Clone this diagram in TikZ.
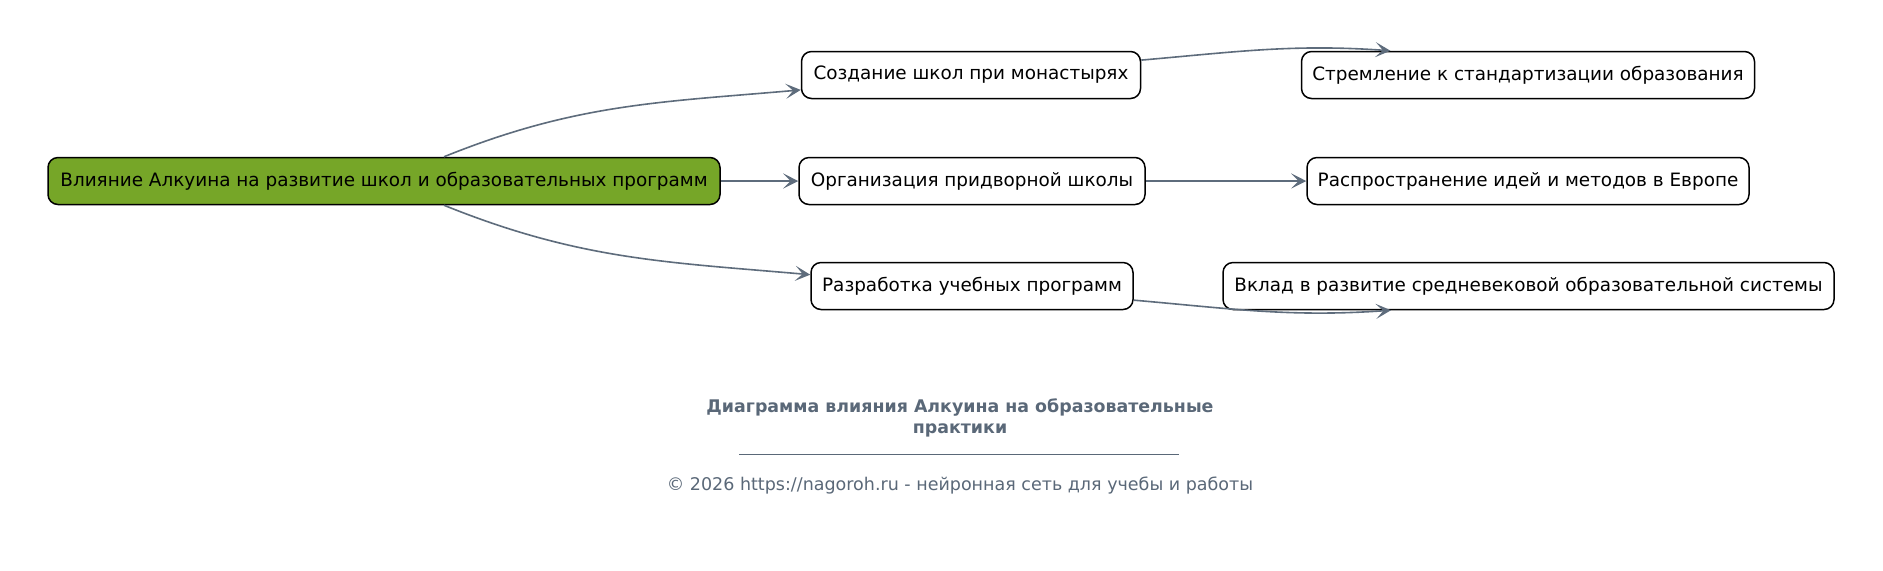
\documentclass[tikz,border=0pt]{standalone}
\usepackage{fontspec}
\setmainfont{DejaVu Sans}
\usetikzlibrary{arrows.meta,positioning}
\definecolor{rootgreen}{RGB}{118,166,40}
\definecolor{edgegray}{RGB}{94,108,124}
\definecolor{titlegray}{RGB}{90,104,120}

\tikzset{
  topic/.style={draw=black, line width=0.75pt, rounded corners=5pt, fill=white,
    minimum height=23.5pt, inner xsep=4pt, font=\fontsize{9.2}{11}\selectfont},
  rootbox/.style={topic, fill=rootgreen},
  link/.style={draw=edgegray, line width=0.8pt,
    -{Stealth[length=7.5pt, width=7.5pt, inset=3.7pt]}}
}

\begin{document}
\begin{tikzpicture}[x=0.5pt, y=0.5pt]
  \useasboundingbox[fill=white] (0,0) rectangle (1883,-570);

  % Root
  \node[rootbox, minimum width=336pt] (root) at (384,-181)
    {Влияние Алкуина на развитие школ и образовательных программ};

  % Middle column
  \node[topic, minimum width=169.5pt] (schools) at (971,-75)
    {Создание школ при монастырях};
  \node[topic, minimum width=173pt] (court) at (972,-181)
    {Организация придворной школы};
  \node[topic, minimum width=161pt] (curricula) at (972,-286)
    {Разработка учебных программ};

  % Right column
  \node[topic, minimum width=226.5pt] (standard) at (1528,-75)
    {Стремление к стандартизации образования};
  \node[topic, minimum width=221pt] (europe) at (1528,-181)
    {Распространение идей и методов в Европе};
  \node[topic, minimum width=305.5pt] (medieval) at (1528.5,-286)
    {Вклад в развитие средневековой образовательной системы};

  % Connectors
  \draw[link] (root.22) to[out=22, in=185] (schools.185);
  \draw[link] (root.east) -- (court.west);
  \draw[link] (root.-22) to[out=-22, in=175] (curricula.176);
  \draw[link] (schools.5) to[out=5, in=176] (standard.170);
  \draw[link] (court.east) -- (europe.west);
  \draw[link] (curricula.-5) to[out=-5, in=184] (medieval.190);

  % Caption
  \node[font=\fontsize{8.7}{10.5}\selectfont\bfseries, text=titlegray, align=center] (title) at (960,-418)
    {Диаграмма влияния Алкуина на образовательные\\практики};
  \coordinate (ruleL) at (739,-454);
  \coordinate (ruleR) at (1179,-454);
  \draw[titlegray, line width=0.5pt] (ruleL) -- (ruleR);
  \node[font=\fontsize{8.75}{10.5}\selectfont, text=titlegray] (credit) at (960,-486)
    {© 2026 https://nagoroh.ru - нейронная сеть для учебы и работы};
\end{tikzpicture}
\end{document}
